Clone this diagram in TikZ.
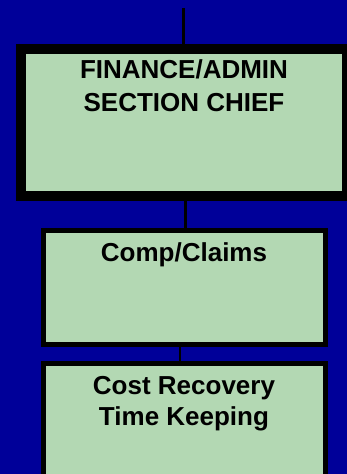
\documentclass[tikz,border=0pt]{standalone}
\usepackage{fontspec}
\setmainfont{Liberation Sans}
\definecolor{bgblue}{RGB}{0,0,153}
\definecolor{boxgreen}{RGB}{179,216,179}
\begin{document}
\begin{tikzpicture}[x=1pt,y=1pt,
  box/.style={draw=black,fill=boxgreen,rectangle,inner sep=0pt},
  label/.style={anchor=north,inner sep=0pt,align=center,text=black,
    font=\fontsize{26}{32}\selectfont\bfseries},
  conn/.style={draw=black,line width=3pt}]
\useasboundingbox (0,0) rectangle (347,-474);
\clip (0,0) rectangle (347,-474);
\fill[bgblue] (0,0) rectangle (347,-474);
\node[box,line width=10pt,minimum width=326pt,minimum height=147pt] (b1) at (184,-122.5) {};
\node[box,line width=5pt,minimum width=282pt,minimum height=114pt] (b2) at (184.5,-287.5) {};
\node[box,line width=5pt,minimum width=282pt,minimum height=130pt] (b3) at (184.5,-428.5) {};
\coordinate (top) at (183,-8);
\draw[conn] (top) -- (top |- b1.north);
\draw[conn] (b1.south -| 185,0) -- (b2.north -| 185,0);
\draw[conn,line width=2pt] (b2.south -| 180,0) -- (b3.north -| 180,0);
\node[label] (t1) at (184,-59) {FINANCE/ADMIN\\[1pt]SECTION CHIEF};
\node[label] (t2) at (184,-242.5) {Comp/Claims};
\node[label] (t3) at (184,-376) {Cost Recovery\\[-1pt]Time Keeping};
\end{tikzpicture}
\end{document}
